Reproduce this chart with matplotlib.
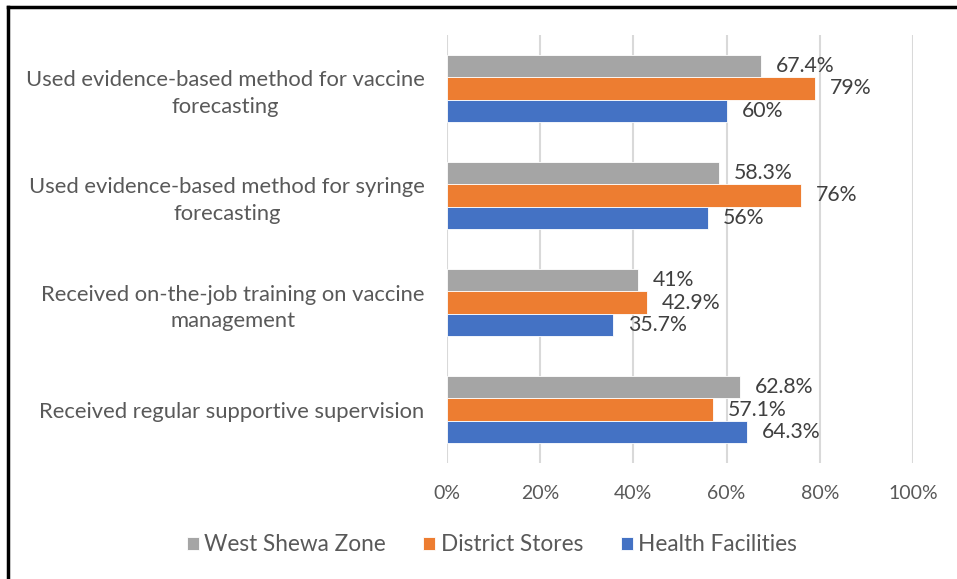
import numpy as np
import matplotlib.pyplot as plt
from matplotlib.lines import Line2D

categories = [
    "Used evidence-based method for vaccine\nforecasting",
    "Used evidence-based method for syringe\nforecasting",
    "Received on-the-job training on vaccine\nmanagement",
    "Received regular supportive supervision",
]
series_names = ["West Shewa Zone", "District Stores", "Health Facilities"]
west_shewa = [67.4, 58.3, 41, 62.8]
district_stores = [79, 76, 42.9, 57.1]
health_facilities = [60, 56, 35.7, 64.3]
x_ticks = [0, 20, 40, 60, 80, 100]

colors = ["#A5A5A5", "#ED7D31", "#4472C4"]
text_color = "#404040"
tick_color = "#595959"

plt.rcParams['font.family'] = ['Lato', 'DejaVu Sans']

fig = plt.figure(figsize=(9.57, 5.79), dpi=100)
ax = fig.add_axes([0.467, 0.2003, 0.487, 0.7393])

y = np.arange(len(categories))
h = 0.206
for i, (vals, name) in enumerate(zip([west_shewa, district_stores, health_facilities], series_names)):
    offs = (i - 1) * h
    bars = ax.barh(y + offs, vals, height=h, color=colors[i], label=name,
                   edgecolor='white', linewidth=0.6, zorder=3)
    for b, v in zip(bars, vals):
        ax.text(v + 3.2, b.get_y() + b.get_height() / 2, f"{v:g}%",
                va='center', ha='left', fontsize=15.3, color=text_color)

ax.set_xlim(0, 100)
ax.set_ylim(len(categories) - 0.5, -0.5)
ax.set_xticks(x_ticks)
ax.set_xticklabels([f"{t}%" for t in x_ticks], fontsize=14, color=tick_color)
ax.set_yticks(y)
ax.set_yticklabels(categories, fontsize=15.8, color=tick_color, multialignment='center',
                   linespacing=1.4)
ax.tick_params(axis='both', length=0)
ax.tick_params(axis='x', pad=16)
ax.tick_params(axis='y', pad=16)
ax.grid(axis='x', color='#D9D9D9', linewidth=1.5, zorder=0)
for s in ax.spines.values():
    s.set_visible(False)

handles, labels = ax.get_legend_handles_labels()
fig.legend(handles, labels, loc='center', bbox_to_anchor=(0.514, 0.059), ncol=3,
           frameon=False, fontsize=16.3, handlelength=0.53, handleheight=0.53,
           handletextpad=0.25, columnspacing=1.65, labelcolor=tick_color)

# black frame on top and left edges
fig.add_artist(Line2D([0.008, 1], [0.9885, 0.9885], color='black', linewidth=2.5, transform=fig.transFigure))
fig.add_artist(Line2D([0.0085, 0.0085], [0, 0.9885], color='black', linewidth=2.5, transform=fig.transFigure))

fig.savefig("out.png", dpi=100)
